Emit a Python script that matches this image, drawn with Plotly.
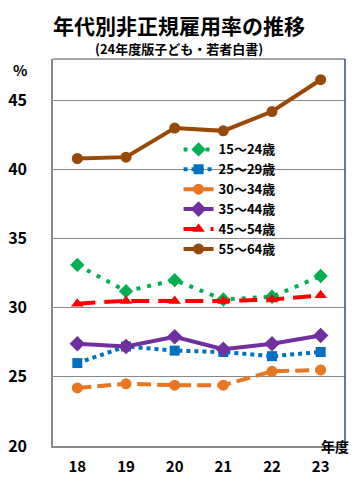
import plotly.graph_objects as go

years = ["18", "19", "20", "21", "22", "23"]
s15_24 = [33.1, 31.2, 32.0, 30.6, 30.8, 32.3]
s25_29 = [26.0, 27.2, 26.9, 26.8, 26.5, 26.8]
s30_34 = [24.2, 24.5, 24.4, 24.4, 25.4, 25.5]
s35_44 = [27.4, 27.2, 27.9, 27.0, 27.4, 28.0]
s45_54 = [30.3, 30.5, 30.5, 30.5, 30.6, 30.9]
s55_64 = [40.8, 40.9, 43.0, 42.8, 44.2, 46.5]
names = ["15～24歳", "25～29歳", "30～34歳", "35～44歳", "45～54歳", "55～64歳"]
y_ticks = [20, 25, 30, 35, 40, 45]

FONT = "Noto Sans CJK JP"
styles = [
    dict(color="#00B050", dash="4px,7px", symbol="diamond", size=11),
    dict(color="#0070C0", dash="dot", symbol="square", size=10),
    dict(color="#E87722", dash="14px,6px", symbol="circle", size=11),
    dict(color="#7030A0", dash="solid", symbol="diamond", size=12),
    dict(color="#FF0000", dash="18px,9px", symbol="triangle-up", size=11),
    dict(color="#984807", dash="solid", symbol="circle", size=11),
]
series = [s15_24, s25_29, s30_34, s35_44, s45_54, s55_64]

fig = go.Figure()
for name, vals, st in zip(names, series, styles):
    fig.add_trace(go.Scatter(
        x=years, y=vals, name=name, mode="lines+markers",
        line=dict(color=st["color"], width=4, dash=st["dash"]),
        marker=dict(symbol=st["symbol"], size=st["size"], color=st["color"]),
    ))

fig.update_layout(
    width=357, height=484,
    margin=dict(l=53, r=12, t=59, b=38),
    paper_bgcolor="white", plot_bgcolor="white",
    font=dict(family=FONT, color="black"),
    showlegend=True,
    legend=dict(x=0.43, y=0.805, xanchor="left", yanchor="top",
                bgcolor="rgba(0,0,0,0)", font=dict(size=13, family=FONT, weight="bold"),
                itemwidth=30, tracegroupgap=0),
    xaxis=dict(type="category", range=[-0.5, 5.5], showgrid=False, automargin=False,
               showline=True, linecolor="#888888", linewidth=1.5,
               ticks="", ticklabelstandoff=6,
               tickfont=dict(size=15, family=FONT, weight="bold"), mirror=False),
    yaxis=dict(range=[20, 48], tickvals=y_ticks, showgrid=True, gridcolor="#888888",
               gridwidth=1.2, showline=True, linecolor="#888888", linewidth=1.5,
               ticks="", ticklabelstandoff=21, zeroline=False, automargin=False,
               tickfont=dict(size=16, family=FONT, weight="bold")),
    shapes=[
        dict(type="line", xref="paper", yref="paper", x0=0, x1=1, y0=1, y1=1,
             line=dict(color="#888888", width=1.5)),
        dict(type="line", xref="paper", yref="paper", x0=1, x1=1, y0=0, y1=1,
             line=dict(color="#2F4F6F", width=1.5)),
    ],
    annotations=[
        dict(text="<b>年代別非正規雇用率の推移</b>", xref="paper", yref="paper",
             x=0.43, y=1.0, yshift=34, xanchor="center", yanchor="middle",
             showarrow=False, font=dict(size=21, family=FONT)),
        dict(text="<b>(24年度版子ども・若者白書)</b>", xref="paper", yref="paper",
             x=0.43, y=1.0, yshift=11, xanchor="center", yanchor="middle",
             showarrow=False, font=dict(size=13, family=FONT)),
        dict(text="<b>%</b>", xref="paper", yref="paper", x=0, xshift=-33,
             y=1.0, yshift=-10, xanchor="center", yanchor="middle",
             showarrow=False, font=dict(size=15, family=FONT)),
        dict(text="<b>年度</b>", xref="paper", yref="paper", x=1, xshift=6,
             y=0, yshift=0, xanchor="right", yanchor="middle",
             showarrow=False, font=dict(size=14, family=FONT)),
    ],
)

fig.write_html("out.html", config={"displayModeBar": False},
               post_script="document.body.style.margin='0';document.body.style.overflow='hidden';")
